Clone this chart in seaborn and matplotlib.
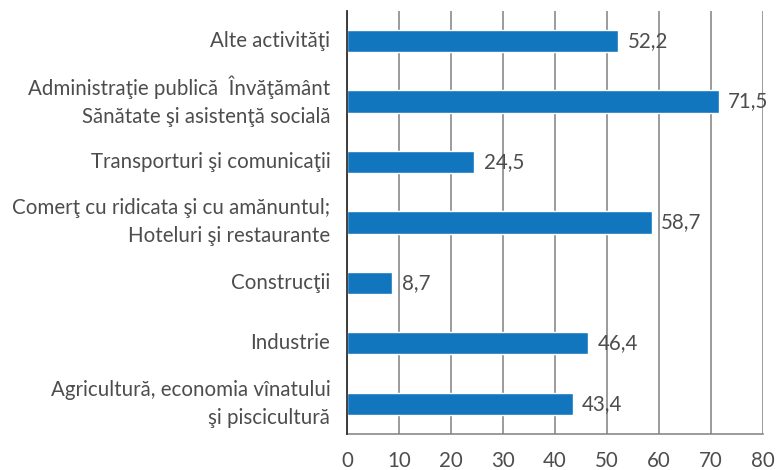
import matplotlib
matplotlib.use("Agg")
import matplotlib.pyplot as plt
import seaborn as sns
import pandas as pd

# data
categories = [
    "Alte activităţi",
    "Administraţie publică  Învăţământ\nSănătate şi asistenţă socială",
    "Transporturi şi comunicaţii",
    "Comerţ cu ridicata şi cu amănuntul;\nHoteluri şi restaurante",
    "Construcţii",
    "Industrie",
    "Agricultură, economia vînatului\nşi piscicultură",
]
values = [52.2, 71.5, 24.5, 58.7, 8.7, 46.4, 43.4]
x_ticks = [0, 10, 20, 30, 40, 50, 60, 70, 80]

df = pd.DataFrame({"cat": categories, "val": values})

sns.set_style("white")
plt.rcParams['font.family'] = ['Lato', 'DejaVu Sans']
plt.rcParams['font.weight'] = 'normal'
text_color = '#4d4d4d'
fs = 14.8

fig = plt.figure(figsize=(7.77, 4.70), dpi=100)
ax = fig.add_axes([0.4466, 0.0766, 0.535, 0.9004])

sns.barplot(data=df, x="val", y="cat", color="#1276BF", width=0.37,
            saturation=1, ax=ax, zorder=3)

ax.set_xlim(0, 80)
ax.set_ylim(6.5, -0.5)
ax.set_xticks(x_ticks)
ax.set_xticklabels([str(t) for t in x_ticks], fontsize=fs, color=text_color)
ax.set_yticklabels(categories, fontsize=fs, color=text_color, linespacing=1.5)
for lbl in ax.get_yticklabels():
    lbl.set_va('center')
ax.tick_params(axis='x', length=0, pad=12)
ax.tick_params(axis='y', length=0, pad=12)
ax.set_xlabel("")
ax.set_ylabel("")

ax.grid(axis='x', color='#808080', linewidth=1.1, zorder=0)
for side in ['top', 'right']:
    ax.spines[side].set_visible(False)
ax.spines['left'].set_color('#303030')
ax.spines['left'].set_linewidth(1.3)
ax.spines['left'].set_zorder(4)
ax.spines['bottom'].set_color('#808080')
ax.spines['bottom'].set_linewidth(1.1)

for i, v in enumerate(values):
    ax.text(v + 1.8, i, f"{v:.1f}".replace('.', ','), va='center', ha='left',
            fontsize=fs, color=text_color)

fig.savefig("out.png", dpi=100)
